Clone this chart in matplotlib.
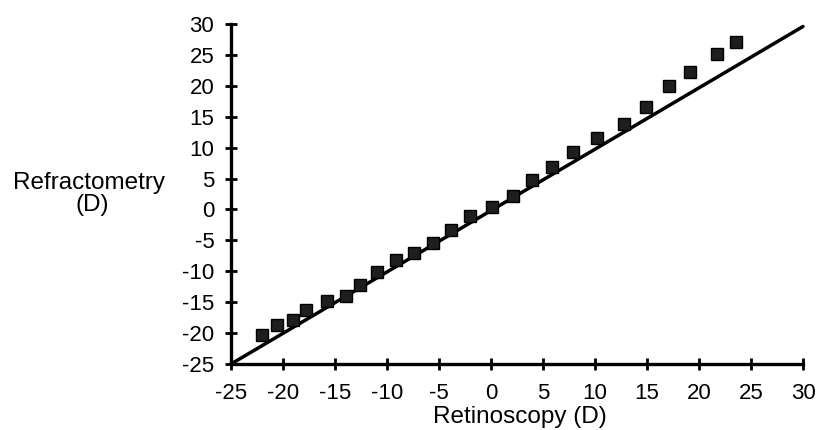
import matplotlib
matplotlib.use("Agg")
import matplotlib.pyplot as plt

plt.rcParams['font.family'] = ['Liberation Sans', 'DejaVu Sans']

# Data
retinoscopy = [-22.05, -20.6, -19.0, -17.8, -15.8, -13.9, -12.6, -11.0, -9.1, -7.4,
               -5.6, -3.85, -2.0, 0.1, 2.1, 3.9, 5.9, 7.9, 10.2, 12.8,
               14.9, 17.1, 19.1, 21.7, 23.6]
refractometry = [-20.3, -18.7, -17.9, -16.3, -14.8, -14.0, -12.2, -10.1, -8.1, -7.1,
                 -5.4, -3.3, -1.1, 0.4, 2.2, 4.8, 6.9, 9.3, 11.5, 13.9,
                 16.5, 20.0, 22.2, 25.1, 27.1]
line_x = [-25, 30]
line_y = [-25, 29.6]
x_ticks = [-25, -20, -15, -10, -5, 0, 5, 10, 15, 20, 25, 30]
y_ticks = [-25, -20, -15, -10, -5, 0, 5, 10, 15, 20, 25, 30]

fig = plt.figure(figsize=(8.18, 4.30), dpi=100)
ax = fig.add_axes([231/818, 1-364/430, (803-231)/818, (364-24)/430])

ax.plot(line_x, line_y, color='black', lw=2.5, solid_capstyle='round', zorder=2, clip_on=False)
ax.plot(retinoscopy, refractometry, linestyle='none', marker='s', markersize=8.5,
        markerfacecolor='#1e1e1e', markeredgecolor='black', markeredgewidth=1.0,
        zorder=3, clip_on=False)

ax.set_xlim(-25, 30)
ax.set_ylim(-25, 30)
ax.set_xticks(x_ticks)
ax.set_yticks(y_ticks)
ax.set_xticklabels([str(t) for t in x_ticks])
ax.set_yticklabels([str(t) for t in y_ticks])

for s in ['top', 'right']:
    ax.spines[s].set_visible(False)
for s in ['left', 'bottom']:
    ax.spines[s].set_linewidth(2.4)
    ax.spines[s].set_color('black')

ax.tick_params(axis='both', direction='inout', length=9, width=2, labelsize=16,
               colors='black')
ax.tick_params(axis='y', pad=7.5)
ax.tick_params(axis='x', pad=9)

fig.text(89/818, 1-189/430, 'Refractometry', ha='center', va='baseline', fontsize=17.5)
fig.text(92/818, 1-211/430, '(D)', ha='center', va='baseline', fontsize=17.5)
fig.text(520/818, 1-423/430, 'Retinoscopy (D)', ha='center', va='baseline', fontsize=17.5)

fig.savefig('out.png', dpi=100)
